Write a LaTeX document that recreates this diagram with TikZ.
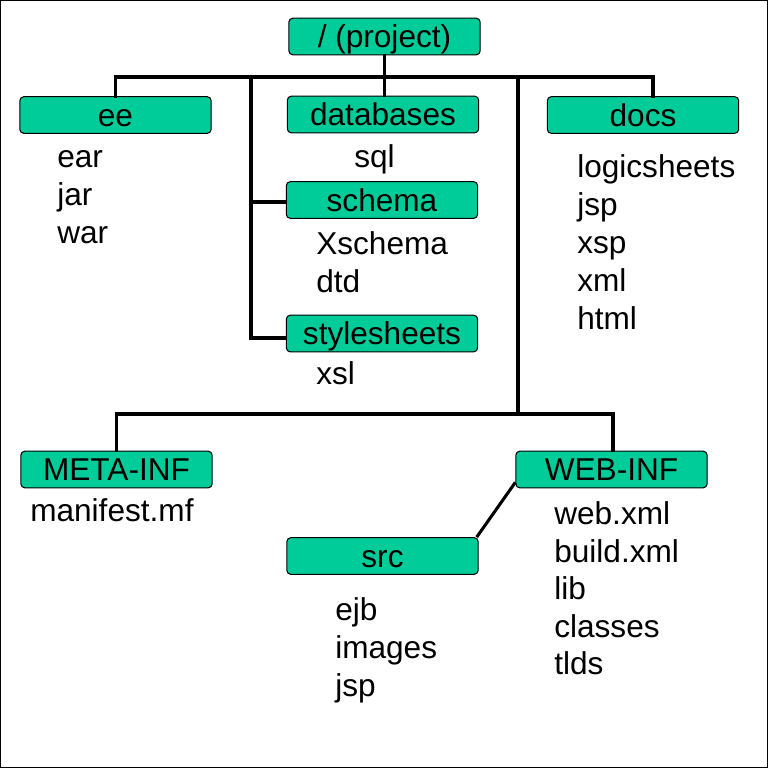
\documentclass[tikz,border=0pt]{standalone}
\usepackage{fontspec}
\setmainfont{Liberation Sans}
\definecolor{boxgreen}{RGB}{0,204,153}
\begin{document}
\begin{tikzpicture}[x=0.75pt,y=-0.75pt,
  every node/.style={font=\fontsize{23.7pt}{28pt}\selectfont},
  dirbox/.style={draw=black,line width=0.8pt,fill=boxgreen,rounded corners=3pt,
    minimum width=143.5pt,minimum height=27.5pt,inner sep=0pt,
    text height=19.5pt,text depth=3pt},
  item/.style={anchor=base west,inner sep=0pt},
  conn/.style={line width=2.5pt,line cap=rect}]
\useasboundingbox (0,0) rectangle (769,769);
\draw[line width=0.9pt] (0.7,0.7) rectangle (767.6,767.6);

% boxes
\node[dirbox] (project) at (384.5,36.5) {/ (project)};
\node[dirbox] (ee) at (115.5,115) {ee};
\node[dirbox] (databases) at (383,114.5) {databases};
\node[dirbox] (docs) at (643,115) {docs};
\node[dirbox] (schema) at (382,200) {schema};
\node[dirbox] (stylesheets) at (382,333.5) {stylesheets};
\node[dirbox] (metainf) at (116.5,469.5) {META-INF};
\node[dirbox] (webinf) at (611.5,469.5) {WEB-INF};
\node[dirbox] (src) at (382.5,556) {src};

% connector coordinates
\coordinate (busR) at (653,77);
\coordinate (vL) at (251,77);
\coordinate (vR) at (518,77);
\coordinate (hb) at (518,414);
\coordinate (webdrop) at (613,414);

% connectors
\draw[conn] (project.south) -- (project.south |- databases.north);
\draw[conn] (ee.north) |- (busR) -- (busR |- docs.north);
\draw[conn] (vL) |- ([yshift=-1.5pt]schema.west);
\draw[conn] (vL) |- ([yshift=-3.3pt]stylesheets.west);
\draw[conn] (vR) -- (hb);
\draw[conn] (metainf.north) |- (webdrop) -- (webdrop |- webinf.north);
\draw[line width=2.3pt] ([yshift=4.5pt]webinf.south west) -- ([xshift=-1.5pt]src.north east);

% lists
\node[item] (ear) at (57,167.5) {ear};
\node[item] (jar) at (57,205.5) {jar};
\node[item] (war) at (57,243.5) {war};

\node[item] (sql) at (354,167.5) {sql};

\node[item] (xschema) at (316,254.5) {Xschema};
\node[item] (dtd) at (316,292.5) {dtd};

\node[item] (xsl) at (316,384.5) {xsl};

\node[item] (logicsheets) at (577,177.5) {logicsheets};
\node[item] (djsp) at (577,215.5) {jsp};
\node[item] (xsp) at (577,253.5) {xsp};
\node[item] (xml) at (577,291.5) {xml};
\node[item] (html) at (577,329.5) {html};

\node[item] (manifest) at (30,521.5) {manifest.mf};

\node[item] (ejb) at (335,620.5) {ejb};
\node[item] (images) at (335,658.5) {images};
\node[item] (sjsp) at (335,696.5) {jsp};

\node[item] (webxml) at (554,524.5) {web.xml};
\node[item] (buildxml) at (554,562) {build.xml};
\node[item] (lib) at (554,599.5) {lib};
\node[item] (classes) at (554,637) {classes};
\node[item] (tlds) at (554,674.5) {tlds};
\end{tikzpicture}
\end{document}
